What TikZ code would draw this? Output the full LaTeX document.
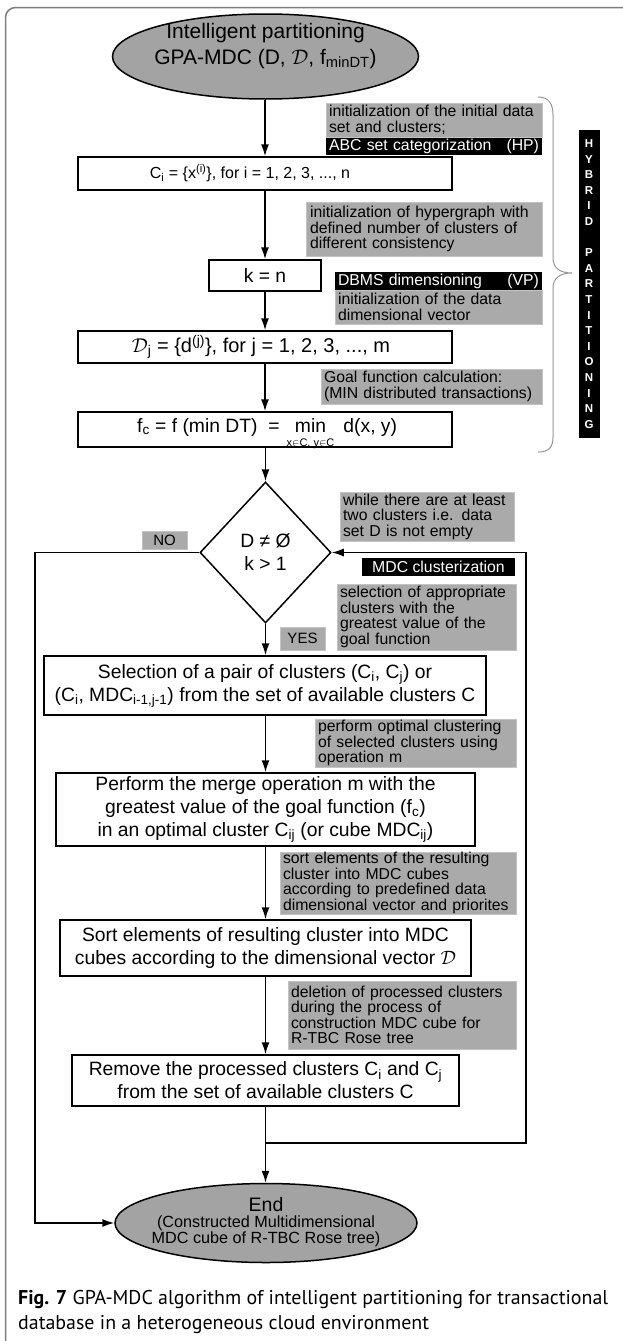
\RequirePackage{fix-cm}
\documentclass[tikz,border=0pt]{standalone}
\usepackage{amsmath}
\usepackage{graphicx}
\usepackage{fontspec}
\setmainfont{Liberation Sans}
\newfontfamily\capfamily{PT Sans}
\usetikzlibrary{shapes.geometric,arrows.meta}

\definecolor{notegray}{RGB}{170,170,170}
\definecolor{noteedge}{RGB}{195,195,195}
\definecolor{ovalgray}{RGB}{163,163,163}
\definecolor{framegray}{RGB}{125,125,125}
\definecolor{bracegray}{RGB}{150,150,150}

\newcommand\flowfont{\fontsize{19.3}{23}\selectfont}
\newcommand\smallflowfont{\fontsize{16}{20}\selectfont}
\newcommand\memofont{\fontsize{15.8}{15.5}\selectfont\hyphenpenalty=10000\exhyphenpenalty=10000}
\newcommand\ovalfont{\fontsize{21}{26}\selectfont}

\begin{document}
\begin{tikzpicture}[x=1pt,y=-1pt,
  >={Latex[length=12pt,width=8pt]},
  proc/.style={draw,line width=1.5pt,fill=white,inner sep=0pt,align=center,font=\flowfont},
  oval/.style={ellipse,draw,line width=1.5pt,fill=ovalgray,inner sep=0pt},
  memo/.style={fill=notegray,draw=noteedge,line width=0.8pt,inner sep=0pt,align=left,font=\memofont},
  band/.style={fill=black,text=white,inner sep=0pt,align=left,font=\memofont},
  tag/.style={fill=notegray,draw=noteedge,line width=0.8pt,inner sep=0pt,font=\fontsize{15}{15}\selectfont},
  word/.style={font=\flowfont,inner sep=0pt,anchor=base west},
  conn/.style={line width=1.5pt,->},
  link/.style={line width=1.5pt}]

\useasboundingbox (0,0) rectangle (623,1341);

% outer frame (open to the right and bottom)
\draw[framegray,line width=1.5pt,rounded corners=10pt] (5.5,1400) -- (5.5,7.5) -- (700,7.5);

% start terminal
\node[oval,minimum width=306,minimum height=85] (start) at (265.5,56.5) {};
\node[font=\ovalfont,align=center,inner sep=0pt] (starttext) at (265.5,46)
  {Intelligent partitioning\\GPA-MDC (D, $\mathcal{D}$, f\textsubscript{minDT})};

% process boxes
\node[proc,minimum width=374,minimum height=33] (ci) at (265,173.5) {};
\node[font=\smallflowfont,inner sep=0pt] (citext) at (250,173.5)
  {C\textsubscript{i} = \{x\textsuperscript{(i)}\}, for i = 1, 2, 3, ..., n};
\node[proc,minimum width=112,minimum height=31] (kn) at (265,275.5) {k = n};
\node[proc,minimum width=374,minimum height=32] (dj) at (265,347) {};
\node[font=\fontsize{20}{23}\selectfont,inner sep=0pt] (djtext) at (261,347)
  {$\mathcal{D}$\textsubscript{j} = \{d\textsuperscript{(j)}\}, for j = 1, 2, 3, ..., m};

% goal function box: formula built from pieces so that the limits sit under "min"
\node[proc,minimum width=374,minimum height=35] (fc) at (265,429.5) {};
\node[word] (fcleft) at (137,432) {f\textsubscript{c} = f (min DT)\ \ =};
\node[word] (fcmin) at ([xshift=15pt]fcleft.base east) {min};
\node[font=\fontsize{11}{11}\selectfont,inner sep=0pt,anchor=north] (fcsub) at ([yshift=-6.5pt]fcmin.south) {x$\in$C, y$\in$C};
\node[word] (fcright) at ([xshift=17pt]fcmin.base east) {d(x, y)};

\node[diamond,draw,line width=1.5pt,fill=white,inner sep=0pt,aspect=0.93,
      minimum width=131,minimum height=141,align=center,font=\flowfont] (dec) at (265.5,552.5)
  {D ≠ Ø\\k > 1};

\node[proc,minimum width=442,minimum height=59] (sel) at (265,685.5)
  {Selection of a pair of clusters (C\textsubscript{i}, C\textsubscript{j}) or\\
   (C\textsubscript{i}, MDC\textsubscript{i-1,j-1}) from the set of available clusters C};
\node[proc,minimum width=419,minimum height=73] (merge) at (265.5,809.5)
  {Perform the merge operation m with the\\
   greatest value of the goal function (f\textsubscript{c})\\
   in an optimal cluster C\textsubscript{ij} (or cube MDC\textsubscript{ij})};
\node[proc,minimum width=411,minimum height=56] (sort) at (265.5,948)
  {Sort elements of resulting cluster into MDC\\
   cubes according to the dimensional vector $\mathcal{D}$};
\node[proc,minimum width=387,minimum height=51] (remove) at (265.5,1080.5)
  {Remove the processed clusters C\textsubscript{i} and C\textsubscript{j}\\
   from the set of available clusters C};

% end terminal
\node[oval,minimum width=302,minimum height=79] (end) at (266,1223) {};
\node[align=center,inner sep=0pt,font=\fontsize{16.2}{15}\selectfont] (endtext) at (266,1222)
  {{\fontsize{19.5}{15}\selectfont End}\\[1.5pt](Constructed Multidimensional\\MDC cube of R-TBC Rose tree)};

% annotations
\node[memo,minimum width=216,minimum height=34,text width=210] (noteA) at (434,120)
  {initialization of the initial data\\set and clusters;};
\node[band,minimum width=216,minimum height=17,text width=210] (bandHP) at (434,146.5)
  {ABC set categorization\hfill(HP)};
\node[memo,minimum width=236,minimum height=54,text width=228] (noteB) at (424,229)
  {initialization of hypergraph with\\defined number of clusters of\\different consistency};
\node[band,minimum width=207,minimum height=18,text width=201] (bandVP) at (438.5,281)
  {DBMS dimensioning\hfill(VP)};
\node[memo,minimum width=207,minimum height=34,text width=201] (noteVP) at (438.5,307)
  {initialization of the data\\dimensional vector};
\node[memo,minimum width=221,minimum height=35,text width=215] (noteGoal) at (431.5,386.5)
  {Goal function calculation:\\(MIN distributed transactions)};
\node[memo,minimum width=174,minimum height=49,text width=168] (noteWhile) at (427,516.5)
  {while there are at least\\two clusters i.e. data\\set D is not empty};
\node[tag,minimum width=45,minimum height=18] (no) at (164.5,540) {NO};
\node[band,align=center,minimum width=153,minimum height=18] (bandMDC) at (438.5,567) {MDC clusterization};
\node[memo,minimum width=179,minimum height=66,text width=173] (noteSel) at (426.5,617)
  {selection of appropriate\\clusters with the\\greatest value of the\\goal function};
\node[tag,minimum width=45,minimum height=23] (yes) at (302.5,638.5) {YES};
\node[memo,minimum width=201,minimum height=48,text width=195] (noteOpt) at (415.5,743)
  {perform optimal clustering\\of selected clusters using\\operation m};
\node[memo,minimum width=236,minimum height=62,text width=230] (noteSort) at (398,883)
  {sort elements of the resulting\\cluster into MDC cubes\\according to predefined data\\dimensional vector and priorites};
\node[memo,minimum width=228,minimum height=68,text width=222] (noteDel) at (402,1015)
  {deletion of processed clusters\\during the process of\\construction MDC cube for\\R-TBC Rose tree};

% hybrid partitioning brace and label
\draw[bracegray,line width=1pt] (538,97) .. controls (549,97) and (553,104) .. (553,115)
  -- (553,258) .. controls (553,268) and (560,273) .. (572,273)
  .. controls (560,273) and (553,278) .. (553,288)
  -- (553,437) .. controls (553,447) and (549,452) .. (538,452);
\node[fill=black,text=white,inner sep=0pt,minimum width=21,minimum height=308,align=center,
      font=\bfseries\fontsize{11.5}{15.6}\selectfont] (hybrid) at (589,284)
  {H\\Y\\B\\R\\I\\D\\[15.6pt]P\\A\\R\\T\\I\\T\\I\\O\\N\\I\\N\\G};

% connectors
\coordinate (join) at (265.5,1143);
\coordinate (rloop) at (526,1143);
\coordinate (lloop) at (35,552.5);
\draw[conn] (start.south -| ci.north) -- (ci.north);
\draw[conn] (ci.south -| kn.north) -- (kn.north);
\draw[conn] (kn) -- (dj);
\draw[conn] (dj) -- (fc);
\draw[conn] (fc.south -| dec.north) -- (dec.north);
\draw[conn] (dec.south) -- (dec.south |- sel.north);
\draw[conn] (sel.south -| merge.north) -- (merge.north);
\draw[conn] (merge) -- (sort);
\draw[conn] (sort) -- (remove);
\draw[link] (remove.south) -- (join);
\draw[conn] (join) -- (join |- end.north);
\draw[conn] (join) -- (rloop) |- (dec.east);
\draw[conn] (dec.west) -- (lloop) |- (end.west);

% caption
\node[anchor=north west,inner sep=0pt,font=\capfamily\fontsize{17}{21}\selectfont] (caption) at (18,1287)
  {\resizebox{590pt}{!}{\begin{tabular}{@{}l@{}}\textbf{Fig. 7} GPA-MDC algorithm of intelligent partitioning for transactional\\
   database in a heterogeneous cloud environment\end{tabular}}};
\end{tikzpicture}
\end{document}
